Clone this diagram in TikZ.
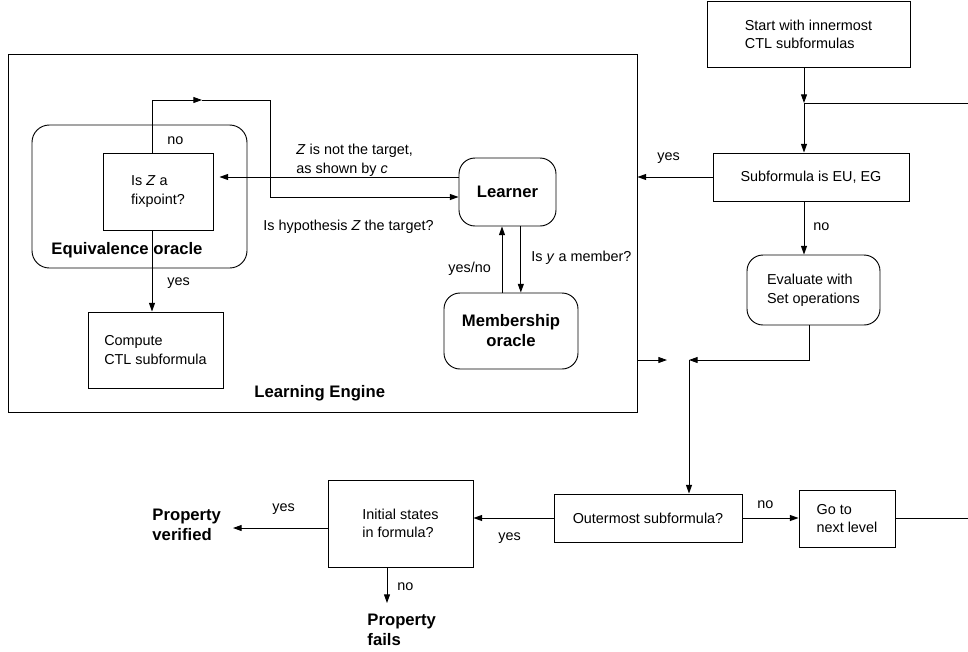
\documentclass[tikz,border=0pt]{standalone}
\usepackage{fontspec}
\setmainfont{Liberation Sans}
\usetikzlibrary{arrows.meta}

\newcommand{\txtsz}{\fontsize{10.8}{14}\selectfont}
\newcommand{\boldsz}{\fontsize{12.5}{15}\selectfont\bfseries}

\begin{document}
\begin{tikzpicture}[x=0.75pt,y=0.75pt,yscale=-1,xscale=1,
  line width=0.7pt, >={Triangle[length=6.5pt,width=4.5pt]},
  box/.style={draw,rectangle,inner sep=0pt,align=left,font=\txtsz},
  rbox/.style={box,rounded corners=12pt},
  lbl/.style={anchor=west,inner sep=0.75pt,align=left,font=\txtsz},
  blbl/.style={anchor=west,inner sep=0.75pt,align=left,font=\boldsz}]
\useasboundingbox (0,0) rectangle (968,651);

%Shape: Rectangle [id:engine]
\node (engine) [box,minimum width=471.75pt,minimum height=268.5pt] at (322.5,233) {};
%Shape: Rounded Rect [id:eqor]
\node (eqor) [rbox,rounded corners=13pt,minimum width=161.25pt,minimum height=107.25pt] at (139.5,196.5) {};
%Shape: Rectangle [id:fixp]
\node (fixp) [box,minimum width=82.5pt,minimum height=57.75pt] at (158,191.5) {Is \textit{Z} a\\fixpoint?};
%Shape: Rectangle [id:compute]
\node (compute) [box,minimum width=101.25pt,minimum height=57pt] at (155.5,350) {Compute\\CTL subformula};
%Shape: Rounded Rect [id:learner]
\node (learner) [rbox,font=\boldsz,minimum width=72.75pt,minimum height=51pt] at (507.5,192) {Learner};
%Shape: Rounded Rect [id:member]
\node (member) [rbox,align=center,font=\boldsz,minimum width=100.5pt,minimum height=57pt] at (511,331) {Membership\\oracle};
%Shape: Rectangle [id:start]
\node (start) [box,minimum width=152.25pt,minimum height=49.5pt] at (808.5,34.5) {Start with innermost\\CTL subformulas};
%Shape: Rectangle [id:subf]
\node (subf) [box,minimum width=147pt,minimum height=36pt] at (811,177) {Subformula is EU, EG};
%Shape: Rounded Rect [id:eval]
\node (eval) [rbox,minimum width=99.75pt,minimum height=52.5pt] at (813.5,290) {Evaluate with\\Set operations};
%Shape: Rectangle [id:outer]
\node (outer) [box,minimum width=141pt,minimum height=36pt] at (648,518) {Outermost subformula?};
%Shape: Rectangle [id:nextl]
\node (nextl) [box,minimum width=72pt,minimum height=42.75pt] at (847,518.5) {Go to\\next level};
%Shape: Rectangle [id:init]
\node (init) [box,minimum width=108.75pt,minimum height=65.25pt] at (400.5,523.5) {Initial states\\in formula?};

% Text Node
\node (pverif) [blbl] at (151,525) {Property\\verified};
% Text Node
\node (pfail) [blbl] at (366,630) {Property\\fails};

\coordinate (ltip) at (202,100);
\coordinate (lturn) at (270,100);
\coordinate (jtop) at (804,103);
\coordinate (rtop) at (968,103);
\coordinate (jbot) at (689,360);
\coordinate (jin) at (667,360);
\coordinate (rbot) at (968,518);
\coordinate (pveriftip) at (233,528);
\coordinate (pfailtip) at (387,603);

%Straight Lines
\draw[->] ([xshift=-4.5pt]fixp.north) |- (ltip);
\draw[->] (ltip) -- (lturn) |- ([yshift=3.75pt]learner.west);
\draw[->,shorten >=4.5pt] ([yshift=-11.25pt]learner.west) -- ([yshift=-11.25pt]learner.west -| fixp.east);
\draw[->] ([xshift=-4.5pt]fixp.south) -- ([xshift=-4.5pt]fixp.south |- compute.north);
\draw[->] ([xshift=-6.75pt]member.north) -- ([xshift=-6.75pt]member.north |- learner.south);
\draw[->] ([xshift=10pt]learner.south) -- ([xshift=10pt]learner.south |- member.north);
%Straight Lines
\draw[->] (start.south -| jtop) -- (jtop);
\draw (jtop) -- (rtop);
\draw[->] (jtop) -- (subf.north -| jtop);
\draw[->] (subf.west) -- (subf.west -| engine.east);
\draw[->] (subf.south -| jtop) -- (eval.north -| jtop);
\draw[->] ([xshift=-3.4pt]eval.south) |- (jbot);
\draw[->] (engine.east |- jbot) -- (jin);
\draw[->] (jbot) -- (jbot |- outer.north);
%Straight Lines
\draw[->] (outer.east) -- (outer.east -| nextl.west);
\draw (nextl.east |- rbot) -- (rbot);
\draw[->] (outer.west) -- (outer.west -| init.east);
\draw[->] (init.west |- pveriftip) -- (pveriftip);
\draw[->] (init.south -| pfailtip) -- (pfailtip);

% Text Node
\node (lblfixno) [lbl] at (166,141) {no};
% Text Node
\node (lblfixyes) [lbl] at (166,283) {yes};
% Text Node
\node (lbleqor) [blbl] at (50,250) {Equivalence oracle};
% Text Node
\node (lblnottgt) [lbl] at (295,160) {\textit{Z} is not the target,\\as shown by \textit{c}};
% Text Node
\node (lblhyp) [lbl] at (262,227) {Is hypothesis \textit{Z} the target?};
% Text Node
\node (lblyesno) [lbl] at (447,269) {yes/no};
% Text Node
\node (lblmember) [lbl] at (530,258) {Is \textit{y} a member?};
% Text Node
\node (lblengine) [blbl] at (253,393) {Learning Engine};
% Text Node
\node (lblsubfyes) [lbl] at (656,158) {yes};
% Text Node
\node (lblsubfno) [lbl] at (812,227) {no};
% Text Node
\node (lbloutno) [lbl] at (756,505) {no};
% Text Node
\node (lbloutyes) [lbl] at (497,538) {yes};
% Text Node
\node (lblinityes) [lbl] at (271,509) {yes};
% Text Node
\node (lblinitno) [lbl] at (396,587) {no};
\end{tikzpicture}
\end{document}
